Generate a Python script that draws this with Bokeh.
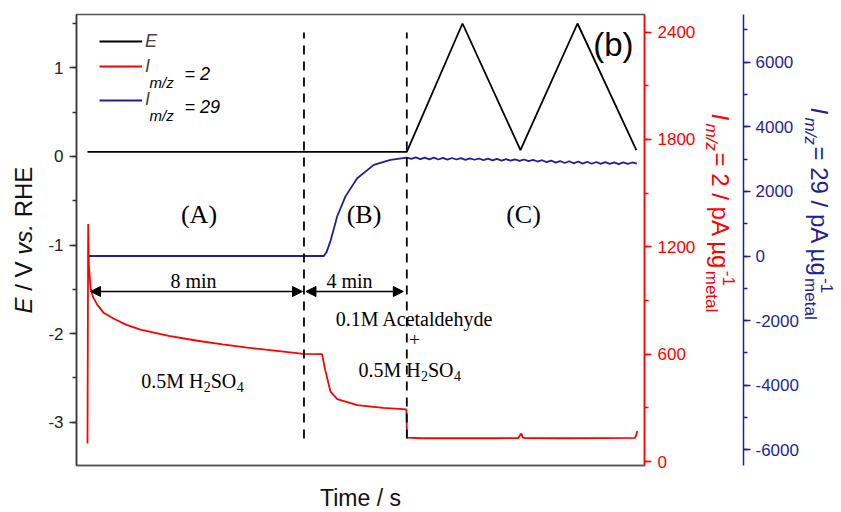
import math
from bokeh.plotting import figure
from bokeh.models import (Range1d, LinearAxis, SingleIntervalTicker, FixedTicker, Label,
                          Legend, LegendItem, Arrow, NormalHead, Title)
from bokeh.embed import file_html
from bokeh.resources import INLINE

# ---------------- data ----------------
# phase boundaries (s): start of (A), start of (B), start of (C)
phase_start = [0, 480, 708]

# potential E (V vs RHE)
e_time = [0, 708, 831.5, 960, 1086.5, 1217]
e_volt = [0.05, 0.05, 1.50, 0.07, 1.50, 0.07]

# I m/z = 2 (pA ug^-1 metal)
h2_time = [0, 1.5, 3, 6.7, 12, 21.5, 35.5, 57.6, 85, 117.5,
           180, 243.9, 300, 354.8, 420, 479, 520, 527, 538.8, 553.7,
           598, 656, 707, 708.5, 740, 800, 900, 955, 960, 962,
           965, 970, 1050, 1150, 1214, 1217, 1219]
h2_curr = [101, 1327, 1100, 973, 920, 877, 832, 799, 765, 737,
           702, 675, 655, 636, 618, 602, 600, 512, 390, 349,
           315, 300, 291, 133, 130, 131, 130, 131, 150, 156,
           135, 131, 130, 131, 132, 150, 170]

# I m/z = 29 (pA ug^-1 metal)
ac_time = [0, 524, 530, 538.8, 553.7, 572, 598, 634.8, 671.8, 708,
           718, 728, 738, 748, 758, 768, 778, 788, 798, 808,
           818, 828, 838, 848, 858, 868, 878, 888, 898, 908,
           918, 928, 938, 948, 958, 968, 978, 988, 998, 1008,
           1018, 1028, 1038, 1048, 1058, 1068, 1078, 1088, 1098, 1108,
           1118, 1128, 1138, 1148, 1158, 1168, 1178, 1188, 1198, 1208,
           1218]
ac_curr = [0, 0, 120, 462, 1231, 1846, 2409, 2822, 2975, 3046,
           3005, 3055, 2998, 3048, 2992, 3044, 2988, 3040, 2985, 3034,
           2988, 3030, 2975, 3024, 2980, 3018, 2970, 3014, 2962, 3008,
           2955, 3000, 2950, 2994, 2945, 2988, 2935, 2978, 2925, 2965,
           2905, 2955, 2890, 2940, 2880, 2934, 2870, 2925, 2860, 2918,
           2855, 2910, 2850, 2904, 2850, 2900, 2845, 2898, 2850, 2895,
           2860]

# tick labels (hyphen minus as in the original)
e_ticks = [-3, -2, -1, 0, 1]
e_tick_labels = ["-3", "-2", "-1", "0", "1"]
red_ticks = [0, 600, 1200, 1800, 2400]
red_tick_labels = ["0", "600", "1200", "1800", "2400"]
blue_ticks = [-6000, -4000, -2000, 0, 2000, 4000, 6000]
blue_tick_labels = ["-6000", "-4000", "-2000", "0", "2000", "4000", "6000"]

# ---------------- layout helpers (picture pixels -> data) ----------------
PX_PER_S = 0.451
T0_PX = 87.0
def tx(px): return (px - T0_PX) / PX_PER_S
def ey(py): return (155.9 - py) / 88.6
def ry(py): return (461.0 - py) / 0.1789
def by(py): return (255.5 - py) / 0.0323

FL, FR, FT, FB = 76, 644, 14, 465
W, H = 839, 510

RED = "#ff0000"
BLUE = "#1f1f96"
SANS = "Liberation Sans"
SERIF = "Liberation Serif"

p = figure(frame_width=FR - FL, frame_height=FB - FT,
           x_range=Range1d(tx(FL), tx(FR)), y_range=Range1d(ey(FB), ey(FT)),
           output_backend="svg", toolbar_location=None,
           min_border_left=FL, min_border_top=FT,
           min_border_right=W - FR, min_border_bottom=H - FB)
p.extra_y_ranges = {"red": Range1d(ry(FB), ry(FT)), "blue": Range1d(by(FB), by(FT))}
p.xgrid.visible = False
p.ygrid.visible = False
p.outline_line_color = "#555555"
p.outline_line_width = 1.5
p.background_fill_color = "white"
p.border_fill_color = "white"

# bottom axis: line + title only
xax = p.xaxis[0]
xax.ticker = FixedTicker(ticks=[])
xax.major_tick_out = 0
xax.minor_tick_out = 0
xax.major_label_standoff = 0
xax.axis_line_color = "#555555"
xax.axis_line_width = 1.5
xax.axis_label = "Time / s"
xax.axis_label_text_font = SANS
xax.axis_label_text_font_size = "23px"
xax.axis_label_text_font_style = "normal"
xax.axis_label_text_color = "#111111"
xax.axis_label_standoff = 19

def style_axis(ax, color, label_color, interval, ticks, labels):
    ax.ticker = SingleIntervalTicker(interval=interval, num_minor_ticks=2)
    ax.major_label_overrides = dict(zip(ticks, labels))
    ax.axis_line_color = color
    ax.axis_line_width = 1.5
    ax.major_tick_line_color = color
    ax.minor_tick_line_color = color
    ax.major_tick_line_width = 1.5
    ax.minor_tick_line_width = 1.5
    ax.major_tick_out = 7
    ax.major_tick_in = 0
    ax.minor_tick_out = 4
    ax.minor_tick_in = 0
    ax.major_label_standoff = 6
    ax.major_label_text_font = SANS
    ax.major_label_text_font_size = "17px"
    ax.major_label_text_color = label_color

def spacer(side, length):
    # invisible gap between stacked side elements
    ax = LinearAxis(y_range_name="red", ticker=FixedTicker(ticks=[0], minor_ticks=[]),
                    major_label_overrides={0: ""}, axis_line_color=None,
                    major_tick_line_color="white", major_tick_out=length, major_tick_in=0,
                    minor_tick_out=0, minor_tick_in=0, major_label_standoff=0)
    p.add_layout(ax, side)

def piece(side, txt, offset, size, color, style="normal"):
    # one run of an axis title; takes no room of its own in the side panel
    p.add_layout(Title(text=txt, align="left", vertical_align="middle", offset=offset,
                       standoff=-(2 + 1.15 * size), text_font=SANS,
                       text_font_size=f"{size}px", text_font_style=style,
                       text_color=color), side)

# left axis (E)
style_axis(p.yaxis[0], "#333333", "#222222", 1, e_ticks, e_tick_labels)
spacer("left", 22)
for t, ystart, st in [("E", 313, "italic"), ("/ V", 290.3, "normal"),
                      ("vs.", 254.2, "italic"), ("RHE", 216.8, "normal")]:
    piece("left", t, FB - ystart, 24, "#111111", st)

# red axis + its title
rax = LinearAxis(y_range_name="red")
style_axis(rax, RED, RED, 600, red_ticks, red_tick_labels)
p.add_layout(rax, "right")

def right_title(color, rest, y0, gaps):
    g_sub, g_main, g_sup, g_end = gaps
    y1 = y0 + 39 + 24 * (4.885 + (0.556 if "29" in rest else 0)) + 1
    spacer("right", g_sub)
    piece("right", "m/z", y0 + 10 - FT, 17, color, "italic")
    piece("right", "metal", y1 - FT, 17, color)
    spacer("right", g_main)
    piece("right", "I", y0 - FT, 24, color, "italic")
    piece("right", rest, y0 + 39 - FT, 24, color)
    spacer("right", g_sup)
    piece("right", "-1", y1 - FT, 17, color)
    if g_end:
        spacer("right", g_end)

right_title(RED, "= 2 / pA µg", 113, (13, 9, 8, 15))

# blue axis + its title
bax = LinearAxis(y_range_name="blue")
style_axis(bax, BLUE, BLUE, 2000, blue_ticks, blue_tick_labels)
bax.major_label_standoff = 5
p.add_layout(bax, "right")
right_title(BLUE, "= 29 / pA µg", 107, (9, 9, 7, 0))

# ---------------- series ----------------
rA = p.line(ac_time, ac_curr, color=BLUE, line_width=1.8, y_range_name="blue")
rH = p.line(h2_time, h2_curr, color=RED, line_width=1.8, y_range_name="red")
rE = p.line(e_time, e_volt, color="black", line_width=1.8)

# dashed phase separators
bounds = phase_start[1:]
p.segment(x0=bounds, x1=bounds, y0=[ey(438)] * len(bounds), y1=[ey(32)] * len(bounds),
          line_color="black", line_width=1.8, line_dash="9 7")

# duration arrows
AY = ey(291)
for a, b in [(phase_start[0] + 3 / PX_PER_S, phase_start[1] - 1.5 / PX_PER_S),
             (phase_start[1] + 2 / PX_PER_S, phase_start[2] - 3.5 / PX_PER_S)]:
    p.add_layout(Arrow(start=NormalHead(size=10, fill_color="black", line_color="black"),
                       end=NormalHead(size=10, fill_color="black", line_color="black"),
                       x_start=a, y_start=AY, x_end=b, y_end=AY,
                       line_color="black", line_width=1.5))

# ---------------- legends ----------------
for rend, lab, cy in [(rE, "E", 41.7), (rH, "I", 66.5), (rA, "I", 100)]:
    lg = Legend(items=[LegendItem(label=lab, renderers=[rend])],
                location=(99 - FL, FB - cy - 10),
                padding=0, margin=0, spacing=0,
                glyph_width=43, glyph_height=20, label_height=20, label_standoff=3,
                label_text_font=SANS, label_text_font_size="18px",
                label_text_font_style="italic",
                border_line_color=None, background_fill_alpha=0)
    p.add_layout(lg)

def text(t, px, py, size, color="black", font=SERIF, style="normal", angle=0,
         align="left", baseline="alphabetic"):
    p.add_layout(Label(x=tx(px), y=ey(py), text=t, text_font=font,
                       text_font_size=f"{size}px", text_color=color,
                       text_font_style=style, angle=angle, text_align=align,
                       text_baseline=baseline))

# legend subscripts
text("m/z", 149, 81.5, 15, font=SANS, style="italic")
text("= 2", 184, 73, 18, font=SANS, style="italic")
text("m/z", 149, 115, 15, font=SANS, style="italic")
text("= 29", 184, 106.5, 18, font=SANS, style="italic")

# panel letter and region labels
text("(b)", 633, 44, 33, font=SANS, align="right")
for lab, cx in [("(A)", 198.5), ("(B)", 363.5), ("(C)", 523)]:
    text(lab, cx, 214, 26, align="center")
text("8 min", 193, 280, 20, align="center")
text("4 min", 349, 280, 20, align="center")
text("0.1M Acetaldehyde", 414, 318.5, 20, align="center")
text("+", 414, 339, 19, align="center", baseline="middle")

def h2so4(x0, base):
    text("0.5M H", x0, base, 20)
    text("2", x0 + 62.5, base + 6, 14)
    text("SO", x0 + 69.5, base, 20)
    text("4", x0 + 95.5, base + 6, 14)

h2so4(140.7, 380)
h2so4(358, 369)

open("out.html", "w").write(file_html(p, INLINE))
